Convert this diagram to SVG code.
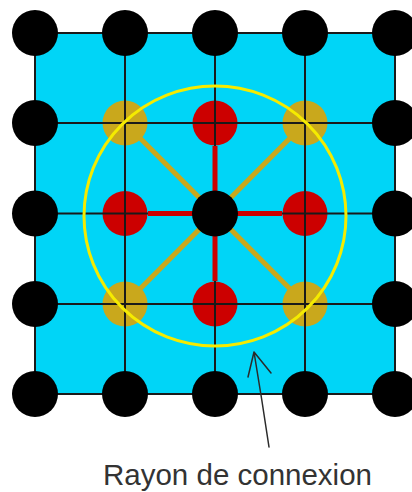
<svg xmlns="http://www.w3.org/2000/svg" width="412" height="492" viewBox="0 0 412 492">
<style>
.grid{stroke:#1a1a1a;stroke-width:2;fill:none}
.blk{fill:#000}
.red{fill:#cc0000}
.gold{fill:#c9a81c}
.rl{stroke:#cc0000;stroke-width:5}
.gl{stroke:#c9a81c;stroke-width:5}
</style>
<rect width="412" height="492" fill="#fff"/>
<g id="background">
<rect x="35" y="33" width="360" height="361" fill="#00d5f7"/>
</g>
<g id="connectors">
<line class="gl" x1="215" y1="213.5" x2="125" y2="123"/>
<line class="gl" x1="215" y1="213.5" x2="305" y2="123"/>
<line class="gl" x1="215" y1="213.5" x2="125" y2="304"/>
<line class="gl" x1="215" y1="213.5" x2="305" y2="304"/>
</g>
<g id="nodes-gold">
<circle class="gold" cx="125" cy="123" r="22.5"/><circle class="gold" cx="305" cy="123" r="22.5"/><circle class="gold" cx="125" cy="304" r="22.5"/><circle class="gold" cx="305" cy="304" r="22.5"/>
</g>
<g id="nodes-red">
<circle class="red" cx="215" cy="123" r="22.5"/><circle class="red" cx="215" cy="304" r="22.5"/><circle class="red" cx="125" cy="213.5" r="22.5"/><circle class="red" cx="305" cy="213.5" r="22.5"/>
</g>
<g id="grid">
<rect x="35" y="33" width="360" height="361" class="grid"/>
<path class="grid" d="M125 33V394M215 33V394M305 33V394M35 123H395M35 213.5H395M35 304H395"/>
</g>
<g id="red-links">
<line class="rl" x1="215" y1="213.5" x2="215" y2="146"/>
<line class="rl" x1="215" y1="213.5" x2="215" y2="281"/>
<line class="rl" x1="215" y1="213.5" x2="148" y2="213.5"/>
<line class="rl" x1="215" y1="213.5" x2="282" y2="213.5"/>
</g>
<g id="nodes-black">
<circle class="blk" cx="35" cy="33" r="23"/><circle class="blk" cx="125" cy="33" r="23"/><circle class="blk" cx="215" cy="33" r="23"/><circle class="blk" cx="305" cy="33" r="23"/><circle class="blk" cx="395" cy="33" r="23"/>
<circle class="blk" cx="35" cy="123" r="23"/><circle class="blk" cx="395" cy="123" r="23"/>
<circle class="blk" cx="35" cy="213.5" r="23"/><circle class="blk" cx="395" cy="213.5" r="23"/>
<circle class="blk" cx="35" cy="304" r="23"/><circle class="blk" cx="395" cy="304" r="23"/>
<circle class="blk" cx="35" cy="394" r="23"/><circle class="blk" cx="125" cy="394" r="23"/><circle class="blk" cx="215" cy="394" r="23"/><circle class="blk" cx="305" cy="394" r="23"/><circle class="blk" cx="395" cy="394" r="23"/>
</g>
<g id="center">
<circle class="blk" cx="215" cy="213.5" r="23"/>
</g>
<g id="radius">
<ellipse cx="215" cy="216" rx="131" ry="130" fill="none" stroke="#f5eb00" stroke-width="3"/>
</g>
<g id="pointer">
<path d="M269 447Q262 400 254 352M248 377L254 352L271 373" fill="none" stroke="#2a2a2a" stroke-width="1.5" stroke-linecap="round" stroke-linejoin="round"/>
</g>
<g id="label">
<text x="103" y="485" font-family="'Liberation Sans', Arial, sans-serif" font-size="29.5" fill="#333">Rayon de connexion</text>
</g>
</svg>
